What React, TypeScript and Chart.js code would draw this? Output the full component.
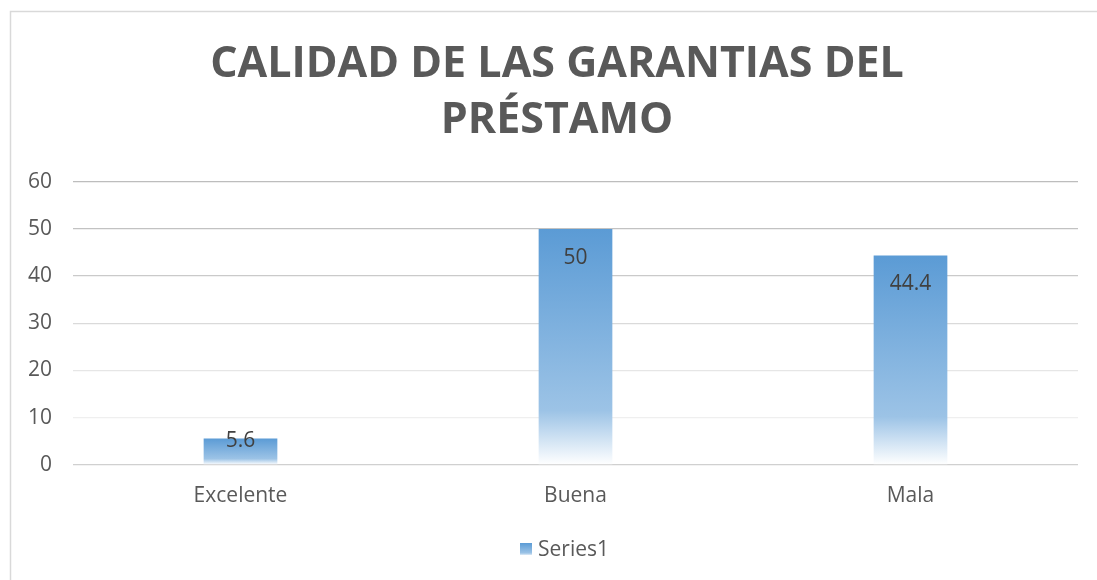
import React, { useEffect, useRef } from "react";
import { Chart, registerables } from "chart.js";
Chart.register(...registerables);

const categories = ["Excelente", "Buena", "Mala"];
const values = [5.6, 50, 44.4];
const seriesName = "Series1";
const titleLines = ["CALIDAD DE LAS GARANTIAS DEL", "PRÉSTAMO"];
const yMin = 0;
const yMax = 60;
const yStep = 10;

const FONT = "'Open Sans', sans-serif";
const TITLE_SIZE = 43;
const TITLE_LH = 1.3;
const TITLE_CENTER_X = 557;
const LEGEND_CENTER_X = 564;
const LEGEND_Y = 549;
const gridShades: Record<number, string> = {
  0: "#D0D0D0",
  10: "#EFEFEF",
  20: "#E6E6E6",
  30: "#DADADA",
  40: "#CACACA",
  50: "#C2C2C2",
  60: "#BDBDBD",
};

function barGradient(ctx: CanvasRenderingContext2D, top: number, base: number) {
  const g = ctx.createLinearGradient(0, top, 0, base);
  g.addColorStop(0, "#5B9BD5");
  g.addColorStop(0.77, "#9CC3E6");
  g.addColorStop(1, "#FFFFFF");
  return g;
}

export default function App() {
  const ref = useRef<HTMLCanvasElement>(null);
  useEffect(() => {
    document.body.style.margin = "0";
    document.body.style.overflow = "hidden";
    const canvas = ref.current!;

    const framePlugin = {
      id: "frame",
      beforeDraw(chart: any) {
        const ctx = chart.ctx;
        ctx.save();
        ctx.fillStyle = "#FFFFFF";
        ctx.fillRect(0, 0, chart.width, chart.height);
        ctx.strokeStyle = "#D9D9D9";
        ctx.lineWidth = 1.5;
        ctx.strokeRect(10.5, 11.5, chart.width + 20, chart.height + 20);
        ctx.restore();
      },
      afterDraw(chart: any) {
        const ctx = chart.ctx;
        ctx.save();
        // title
        const tb = chart.titleBlock;
        if (tb) {
          ctx.font = `bold ${TITLE_SIZE}px ${FONT}`;
          ctx.fillStyle = "#595959";
          ctx.textAlign = "center";
          ctx.textBaseline = "middle";
          const lh = TITLE_SIZE * TITLE_LH;
          const padTop = tb.options.padding.top ?? 0;
          titleLines.forEach((line, i) => {
            ctx.fillText(line, TITLE_CENTER_X, tb.top + padTop + lh * (i + 0.5));
          });
        }
        // legend
        ctx.font = `21px ${FONT}`;
        const tw = ctx.measureText(seriesName).width;
        const box = 12;
        const gap = 6;
        const x0 = Math.round(LEGEND_CENTER_X - (box + gap + tw) / 2);
        const by = LEGEND_Y - 6;
        ctx.fillStyle = barGradient(ctx, by, by + box + 1);
        ctx.fillRect(x0, by, box, box);
        ctx.fillStyle = "#595959";
        ctx.textAlign = "left";
        ctx.textBaseline = "middle";
        ctx.fillText(seriesName, x0 + box + gap, LEGEND_Y + 1);
        ctx.restore();
      },
    };

    const labelPlugin = {
      id: "barLabels",
      afterDatasetsDraw(chart: any) {
        const ctx = chart.ctx;
        const meta = chart.getDatasetMeta(0);
        ctx.save();
        ctx.font = `21px ${FONT}`;
        ctx.fillStyle = "#404040";
        ctx.textAlign = "center";
        ctx.textBaseline = "middle";
        meta.data.forEach((bar: any, i: number) => {
          const { x, y, base } = bar.getProps(["x", "y", "base"], true);
          const h = base - y;
          const ly = h > 40 ? y + 29 : y + 3;
          ctx.fillText(String(values[i]), x, ly);
        });
        ctx.restore();
      },
    };

    const chart = new Chart(canvas, {
      type: "bar",
      data: {
        labels: categories,
        datasets: [
          {
            label: seriesName,
            data: values,
            barPercentage: 0.22,
            categoryPercentage: 1,
            backgroundColor: (c: any) => {
              const ch = c.chart;
              if (!ch.chartArea || c.type !== "data") return "#5B9BD5";
              const ys = ch.scales.y;
              const top = ys.getPixelForValue(c.raw);
              const base = ys.getPixelForValue(0);
              return barGradient(ch.ctx, top, base);
            },
          },
        ],
      },
      options: {
        animation: false,
        responsive: true,
        maintainAspectRatio: false,
        layout: { padding: { left: 0, right: 19, top: 0, bottom: 52 } },
        plugins: {
          title: {
            display: true,
            text: titleLines,
            color: "rgba(0,0,0,0)",
            font: { family: FONT, size: TITLE_SIZE, weight: "bold", lineHeight: TITLE_LH },
            padding: { top: 37, bottom: 33 },
          },
          legend: { display: false },
          tooltip: { enabled: false },
        },
        scales: {
          x: {
            grid: { display: false, drawTicks: false },
            border: { display: false },
            ticks: {
              color: "#595959",
              font: { family: FONT, size: 21 },
              padding: 19,
            },
          },
          y: {
            min: yMin,
            max: yMax,
            afterFit: (s: any) => {
              s.width = 73;
            },
            grid: {
              drawTicks: false,
              color: (c: any) => gridShades[c.tick?.value] ?? "#D9D9D9",
              lineWidth: 1.3,
            },
            border: { display: false },
            ticks: {
              stepSize: yStep,
              color: "#595959",
              font: { family: FONT, size: 21 },
              padding: 21,
            },
          },
        },
      },
      plugins: [framePlugin, labelPlugin],
    });
    return () => chart.destroy();
  }, []);

  return (
    <div style={{ width: 1097, height: 580, position: "relative" }}>
      <canvas ref={ref} />
    </div>
  );
}
